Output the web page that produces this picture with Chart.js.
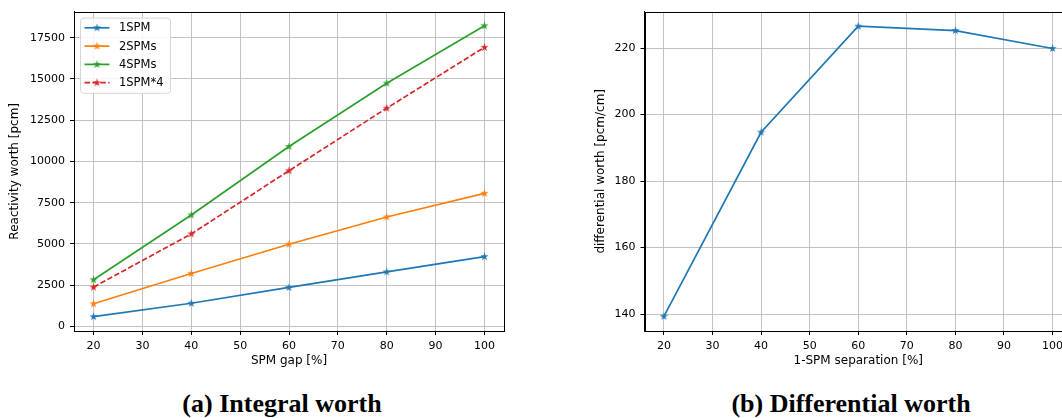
<!DOCTYPE html>
<html>
<head>
<meta charset="utf-8">
<script src="https://cdn.jsdelivr.net/npm/chart.js@4.4.0/dist/chart.umd.min.js"></script>
<style>
  html, body { margin: 0; padding: 0; background: #fff; overflow: hidden; width: 1062px; height: 418px; }
  .box { position: absolute; }
  .caption { position: absolute; font-family: "Liberation Serif", serif; font-weight: bold; font-size: 26px; color: #000; white-space: nowrap; transform: translateX(-50%); }
</style>
</head>
<body>
<div class="box" style="left:0;top:0;width:520px;height:380px"><canvas id="integral"></canvas></div>
<div class="box" style="left:580px;top:0;width:520px;height:380px"><canvas id="differential"></canvas></div>
<div class="caption" style="left:282px;top:389px">(a) Integral worth</div>
<div class="caption" style="left:851px;top:389px">(b) Differential worth</div>
<script>
// values
const gap = [20, 40, 60, 80, 100];
const oneSpm = [595, 1401, 2359, 3306, 4229];
const twoSpms = [1371, 3206, 4980, 6633, 8065];
const fourSpms = [2823, 6754, 10907, 14738, 18226];
const oneSpmTimes4 = [2379, 5605, 9436, 13226, 16915];

const separation = [20, 40, 60, 80, 100];
const diffWorth = [139.3, 194.7, 226.6, 225.3, 219.9];

const xTicks = [20, 30, 40, 50, 60, 70, 80, 90, 100];
const integralTicks = [0, 2500, 5000, 7500, 10000, 12500, 15000, 17500];
const diffTicks = [140, 160, 180, 200, 220];

const FONT = 'DejaVu Sans';
const GRID = '#c2c2c2';

// filled five-point star like matplotlib's '*' marker
function starMarker(color, r) {
  const c = document.createElement('canvas');
  const s = Math.ceil(r * 2 + 2);
  c.width = s; c.height = s;
  const g = c.getContext('2d');
  g.beginPath();
  for (let i = 0; i < 10; i++) {
    const rad = i % 2 === 0 ? r : r * 0.382;
    const a = -Math.PI / 2 + i * Math.PI / 5;
    const px = s / 2 + rad * Math.cos(a), py = s / 2 + rad * Math.sin(a);
    if (i === 0) g.moveTo(px, py); else g.lineTo(px, py);
  }
  g.closePath();
  g.fillStyle = color;
  g.fill();
  return c;
}

function series(xs, ys) {
  return xs.map((x, i) => ({x: x, y: ys[i]}));
}

function line(label, xs, ys, color, dash) {
  return {
    label: label,
    data: series(xs, ys),
    borderColor: color,
    backgroundColor: color,
    borderWidth: 1.7,
    borderDash: dash || [],
    pointStyle: starMarker(color, 4.3),
    pointRadius: 4,
    tension: 0
  };
}

// black frame round the plot area
const frame = {
  id: 'frame',
  afterDraw(chart) {
    const a = chart.chartArea, g = chart.ctx;
    g.save();
    g.strokeStyle = '#000';
    g.lineWidth = 1;
    g.strokeRect(Math.round(a.left) + 0.5, Math.round(a.top) + 0.5,
      Math.round(a.right - a.left), Math.round(a.bottom - a.top));
    g.restore();
  }
};

// matplotlib-like legend inside the upper left corner
const mplLegend = {
  id: 'mplLegend',
  afterDraw(chart, args, opts) {
    if (!opts.show) return;
    const g = chart.ctx, a = chart.chartArea;
    const sets = chart.data.datasets;
    const x0 = a.left + 6.5, y0 = a.top + 6.5, w = 90, rowH = 18.3, h = sets.length * rowH + 2;
    g.save();
    g.beginPath();
    g.roundRect(x0, y0, w, h, 3);
    g.fillStyle = 'rgba(255,255,255,0.85)';
    g.fill();
    g.strokeStyle = '#d6d6d6';
    g.lineWidth = 1;
    g.stroke();
    g.font = '11.5px "' + FONT + '"';
    g.textBaseline = 'middle';
    sets.forEach((d, i) => {
      const y = y0 + 9.7 + i * rowH;
      g.beginPath();
      g.setLineDash(d.borderDash || []);
      g.strokeStyle = d.borderColor;
      g.lineWidth = 1.7;
      g.moveTo(x0 + 4, y);
      g.lineTo(x0 + 29, y);
      g.stroke();
      g.setLineDash([]);
      const m = d.pointStyle;
      g.drawImage(m, x0 + 16.5 - m.width / 2, y - m.height / 2);
      g.fillStyle = '#000';
      g.fillText(d.label, x0 + 38.5, y + 0.5);
    });
    g.restore();
  }
};

function useTicks(values) {
  return s => { s.ticks = values.map(v => ({value: v})); };
}

function axes(xMin, xMax, yMin, yMax, yTicks, xTitle, yTitle, yWidth, yTitlePad) {
  const tickFont = {family: FONT, size: 11};
  const titleFont = {family: FONT, size: 12};
  return {
    x: {
      type: 'linear', min: xMin, max: xMax,
      afterBuildTicks: useTicks(xTicks),
      afterFit: s => { s.height = 49; },
      grid: {color: GRID, lineWidth: 1, tickColor: '#000', tickLength: 4, tickWidth: 1},
      border: {color: '#000'},
      ticks: {color: '#000', font: tickFont, padding: 5, callback: v => String(v)},
      title: {display: true, text: xTitle, color: '#000', font: titleFont, padding: {top: 0, bottom: 11.5}}
    },
    y: {
      type: 'linear', min: yMin, max: yMax,
      afterBuildTicks: useTicks(yTicks),
      afterFit: s => { s.width = yWidth; },
      grid: {color: GRID, lineWidth: 1, tickColor: '#000', tickLength: 4, tickWidth: 1},
      border: {color: '#000'},
      ticks: {color: '#000', font: tickFont, padding: 5, callback: v => String(v)},
      title: {display: true, text: yTitle, color: '#000', font: titleFont, padding: {top: yTitlePad, bottom: 0}}
    }
  };
}

new Chart(document.getElementById('integral'), {
  type: 'line',
  data: {
    datasets: [
      line('1SPM', gap, oneSpm, '#1f77b4'),
      line('2SPMs', gap, twoSpms, '#ff7f0e'),
      line('4SPMs', gap, fourSpms, '#2ca02c'),
      line('1SPM*4', gap, oneSpmTimes4, '#d62728', [5.5, 2.4])
    ]
  },
  options: {
    responsive: true, maintainAspectRatio: false, animation: false,
    layout: {padding: {left: 0, top: 11, right: 16, bottom: 0}},
    plugins: {legend: {display: false}, tooltip: {enabled: false}, mplLegend: {show: true}},
    scales: axes(16, 104, -280, 19080, integralTicks, 'SPM gap [%]', 'Reactivity worth [pcm]', 74, 8)
  },
  plugins: [frame, mplLegend]
});

new Chart(document.getElementById('differential'), {
  type: 'line',
  data: {
    datasets: [line('differential worth', separation, diffWorth, '#1f77b4')]
  },
  options: {
    responsive: true, maintainAspectRatio: false, animation: false,
    layout: {padding: {left: 0, top: 11, right: 28, bottom: 0}},
    plugins: {legend: {display: false}, tooltip: {enabled: false}, mplLegend: {show: false}},
    scales: axes(16, 104, 134.9, 231, diffTicks, '1-SPM separation [%]', 'differential worth [pcm/cm]', 64.5, 14)
  },
  plugins: [frame, mplLegend]
});
</script>
</body>
</html>
